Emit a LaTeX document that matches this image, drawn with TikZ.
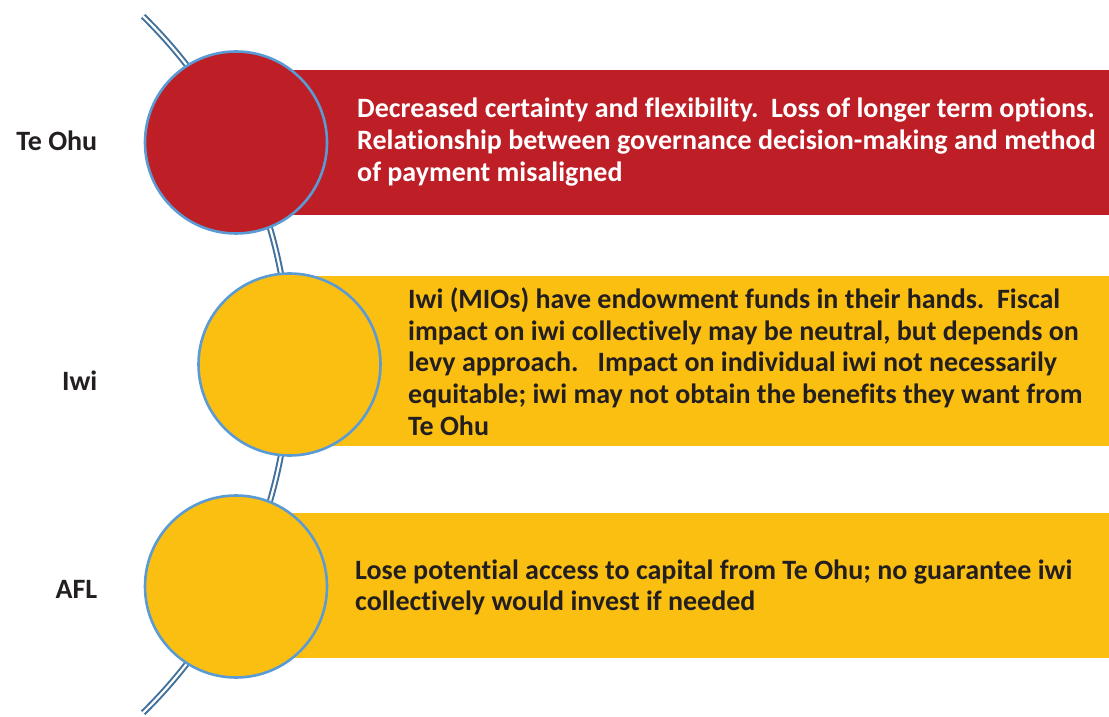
\documentclass[tikz,border=0pt]{standalone}
\usepackage{fontspec}
\setmainfont[Ligatures=NoCommon]{Carlito}
\definecolor{ohured}{RGB}{190,30,38}
\definecolor{iwiyellow}{RGB}{251,191,18}
\definecolor{ringblue}{RGB}{91,155,213}
\definecolor{spineblue}{RGB}{65,113,156}
\definecolor{inkdark}{RGB}{35,31,32}
\tikzset{
  band/.style={draw=none, inner sep=0pt, anchor=south west},
  disc/.style={circle, draw=ringblue, line width=2.6pt, minimum size=182pt, inner sep=0pt},
  spine/.style={draw=spineblue, line width=2pt, double=white, double distance=2.2pt},
  bodytext/.style={font=\bfseries\fontsize{28}{31.7}\selectfont, align=left, inner sep=0pt, anchor=west},
  sidelabel/.style={font=\bfseries\fontsize{28}{32}\selectfont, text=inkdark, inner sep=0pt, anchor=east}
}
\begin{document}
\begin{tikzpicture}[x=1pt,y=1pt]
\useasboundingbox (0,0) rectangle (1109,716);

% coloured bands behind the discs
\node[band, fill=ohured, minimum width=873pt, minimum height=145pt] (bandA) at (236,501) {};
\node[band, fill=iwiyellow, minimum width=819.5pt, minimum height=170pt] (bandB) at (289.5,270) {};
\node[band, fill=iwiyellow, minimum width=873pt, minimum height=145pt] (bandC) at (236,58) {};

% curved spine running through the three discs
\coordinate (spinec) at (-198,351.5);
\draw[spine] (spinec) ++(45.6:487.5) arc[start angle=45.6, end angle=-45.6, radius=487.5];

% discs
\node[disc, fill=ohured] (discA) at (236,573.5) {};
\node[disc, fill=iwiyellow] (discB) at (289.5,351.5) {};
\node[disc, fill=iwiyellow] (discC) at (236,129.5) {};

% side labels
\node[sidelabel] (labA) at (97.5,575) {Te Ohu};
\node[sidelabel] (labB) at (97.5,335) {Iwi};
\node[sidelabel] (labC) at (97.5,127) {AFL};

% band texts
\node[bodytext, text=white] (txtA) at (357,574) {Decreased certainty and flexibility.\ \ Loss of longer term options.\\
Relationship between governance decision-making and method\\
of payment misaligned};
\node[bodytext, text=inkdark] (txtB) at (408,354.5) {Iwi (MIOs) have endowment funds in their hands.\ \ Fiscal\\
impact on iwi collectively may be neutral, but depends on\\
levy approach.\ \ \ Impact on individual iwi not necessarily\\
equitable; iwi may not obtain the benefits they want from\\
Te Ohu};
\node[bodytext, text=inkdark] (txtC) at (355,128.5) {Lose potential access to capital from Te Ohu; no guarantee iwi\\
collectively would invest if needed};
\end{tikzpicture}
\end{document}
